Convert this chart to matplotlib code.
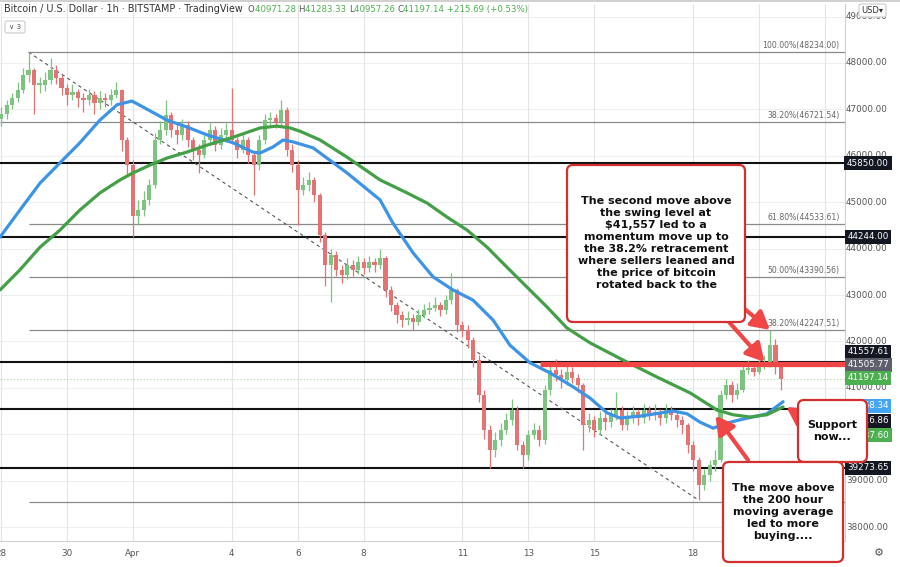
import numpy as np
import matplotlib.pyplot as plt
from matplotlib.patches import FancyBboxPatch
from matplotlib.transforms import blended_transform_factory

plt.rcParams['font.family'] = ['DejaVu Sans']

# ---- BTC/USD, 4 hour candles (time = days from 28 Mar 00:00) ----
first_open = 46800
close = [46900, 47090, 47250, 47420, 47740, 47850, 47530, 47530, 47630, 47850,
         47680, 47460, 47310, 47380, 47250, 47200, 47310, 47140, 47250, 47200,
         47310, 47420, 46340, 45800, 44700, 44830, 45050, 45370, 46340, 46560,
         46880, 46560, 46450, 46660, 46340, 46120, 46020, 46340, 46560, 46230,
         46450, 46560, 46340, 46120, 46340, 46020, 45800, 46340, 46770, 46810,
         46730, 46990, 46120, 45800, 45260, 45370, 45480, 45160, 44290, 43650,
         43860, 43540, 43430, 43650, 43540, 43710, 43580, 43710, 43650, 43800,
         43110, 42790, 42570, 42460, 42510, 42420, 42570, 42680, 42720, 42790,
         42680, 42890, 43110, 42350, 42250, 42030, 41600, 40850, 40090, 39660,
         39880, 40090, 40310, 40520, 39770, 39550, 39980, 40090, 39880, 40950,
         41380, 41280, 41170, 41340, 41210, 41060, 40200, 40310, 40090, 40350,
         40260, 40410, 40520, 40200, 40350, 40480, 40350, 40520, 40410, 40480,
         40350, 40520, 40410, 40310, 40200, 39770, 39440, 38910, 39120, 39340,
         39440, 40850, 41060, 40850, 40950, 41380, 41430, 41340, 41470, 41560,
         41920, 41490, 41197.14]
high = [47050, 47200, 47350, 47600, 47900, 48234, 47900, 47700, 47800, 48100,
        47950, 47750, 47550, 47550, 47450, 47350, 47450, 47400, 47400, 47350,
        47450, 47600, 47450, 46400, 45900, 45050, 45250, 45500, 46500, 46750,
        47200, 46950, 46700, 46800, 46750, 46400, 46250, 46450, 46700, 46650,
        46600, 46700, 47460, 46400, 46500, 46400, 46100, 46450, 46900, 46950,
        46900, 47200, 47050, 46250, 45900, 45550, 45650, 45550, 45200, 44350,
        44000, 43950, 43650, 43800, 43750, 43850, 43800, 43850, 43800, 44000,
        43850, 43200, 42850, 42650, 42650, 42600, 42700, 42800, 42850, 42950,
        42850, 43000, 43470, 43150, 42450, 42350, 42100, 41700, 40950, 40200,
        40050, 40250, 40450, 40750, 40600, 39850, 40100, 40250, 40200, 41050,
        41500, 41620, 41400, 41500, 41450, 41300, 41100, 40450, 40400, 40500,
        40450, 40550, 40900, 40600, 40500, 40600, 40550, 40650, 40600, 40650,
        40550, 40650, 40600, 40500, 40400, 40250, 39850, 39500, 39250, 39450,
        39650, 40950, 41200, 41150, 41100, 41500, 41600, 41550, 41600, 41700,
        42247.51, 42050, 41550]
low = [46650, 46800, 47000, 47150, 47350, 47600, 46900, 47350, 47400, 47550,
       47550, 47300, 47100, 47200, 47050, 46950, 47100, 46900, 47000, 47050,
       47100, 47250, 46100, 45600, 44250, 44500, 44700, 44950, 45300, 46250,
       46450, 46400, 46250, 46350, 46200, 45900, 45630, 45950, 46250, 46100,
       46150, 46350, 46250, 45950, 46050, 45850, 45160, 45700, 46250, 46650,
       46600, 46650, 46000, 45650, 44510, 45150, 45250, 45000, 44150, 43200,
       42850, 43400, 43250, 43350, 43400, 43450, 43450, 43500, 43500, 43550,
       42950, 42650, 42400, 42300, 42350, 42250, 42350, 42500, 42600, 42650,
       42550, 42600, 42800, 42200, 42100, 41850, 41450, 40700, 39900, 39280,
       39500, 39750, 40000, 40200, 39650, 39280, 39450, 39900, 39750, 39800,
       40850, 41150, 41000, 41050, 41100, 40900, 39650, 40050, 39950, 40000,
       40100, 40150, 40300, 40100, 40100, 40250, 40200, 40250, 40300, 40300,
       40200, 40250, 40300, 40150, 40000, 39600, 39200, 38580, 38800, 39000,
       39200, 39400, 40750, 40700, 40750, 40900, 41300, 41250, 41300, 41400,
       41450, 41300, 40957.26]

# moving averages (100 hour blue, 200 hour green), day / price
ma100_day = [-0.03, 0.57, 1.18, 1.79, 2.39, 3.00, 3.52, 3.97, 4.31, 5.03, 5.64,
             6.25, 7.04, 7.64, 7.86, 8.25, 8.56, 8.86, 9.47, 10.50, 11.50, 11.89,
             12.50, 13.11, 13.71, 14.32, 14.93, 15.44, 16.05, 16.66, 17.36, 17.87,
             18.39, 18.78, 19.39, 20.39, 20.82, 21.21, 21.61, 22.03, 22.42, 23.24, 23.73]
ma100 = [44250, 44830, 45410, 45850, 46280, 46770, 47100, 47180, 47050, 46770, 46620,
         46450, 46280, 46080, 46060, 46190, 46340, 46300, 46170, 45630, 45050, 44550,
         43910, 43390, 43110, 42890, 42460, 41920, 41540, 41320, 41020, 40780,
         40460, 40350, 40390, 40500, 40440, 40260, 40130, 40240, 40310, 40440, 40700]
ma200_day = [-0.03, 0.57, 1.18, 1.79, 2.39, 3.00, 3.61, 4.00, 4.52, 5.03, 5.64,
             6.25, 7.04, 7.86, 8.37, 8.77, 9.07, 9.68, 10.50, 11.50, 12.32, 12.93,
             13.53, 14.14, 14.75, 15.35, 15.96, 16.57, 17.17, 17.87, 18.87, 19.91,
             20.91, 21.73, 22.21, 22.73, 23.24, 23.73]
ma200 = [43110, 43540, 44030, 44400, 44830, 45200, 45480, 45630, 45800, 45950, 46080,
         46230, 46400, 46600, 46640, 46600, 46530, 46340, 45970, 45480, 45200, 44980,
         44680, 44400, 44030, 43600, 43170, 42740, 42290, 41970, 41600, 41230,
         40890, 40520, 40420, 40370, 40420, 40587.60]

fib_levels = [48234.00, 44533.61, 43390.56, 42247.51, 38547.10]
fib_names = ["100.00%(48234.00)", "61.80%(44533.61)", "50.00%(43390.56)",
             "38.20%(42247.51)", "0.00%(38547.10)"]
fib2_level = 46721.54
fib2_name = "38.20%(46721.54)"
black_levels = [45850.00, 44244.00, 41557.61, 40540.00, 39273.65]
swing_level = 41505.77
swing_start = 16.35
last_price = 41197.14

price_ticks = list(range(38000, 50000, 1000))
date_days = [0, 2, 4, 7, 9, 11, 14, 16, 18, 21, 23, 25]
date_labels = ["28", "30", "Apr", "4", "6", "8", "11", "13", "15", "18", "20", "22"]

tag_text = ["45850.00", "44244.00", "41557.61", "41505.77", "41197.14",
            "40768.34", "40716.86", "40587.60", "39273.65"]
tag_color = ["#131722", "#131722", "#131722", "#5d606b", "#4caf50",
             "#42a5f5", "#131722", "#4caf50", "#131722"]
tag_px = [163, 237, 352, 365, 378, 406, 421, 435, 468]   # stacked label rows

# ---- layout ----
W, H = 900, 567
PX_R, PX_T, PX_B = 845, 4, 541
P_TOP, P_BOT = 49271, 37699
T_LEFT, T_RIGHT = -0.033, 25.61
UP, DN = "#7cc47f", "#e57373"
RED = "#f04646"
BOXRED = "#d32f2f"


def px_to_price(py):
    return P_TOP - (py - PX_T) / (PX_B - PX_T) * (P_TOP - P_BOT)


fig = plt.figure(figsize=(W / 100, H / 100), dpi=100)
ax = fig.add_axes([0, 1 - PX_B / H, PX_R / W, (PX_B - PX_T) / H])
ax.set_xlim(T_LEFT, T_RIGHT)
ax.set_ylim(P_BOT, P_TOP)
ax.set_xticks([])
ax.set_yticks([])
for s in ["left", "top"]:
    ax.spines[s].set_visible(False)
for s in ["right", "bottom"]:
    ax.spines[s].set_color("#d0d0d0")
    ax.spines[s].set_linewidth(0.8)

ytr = blended_transform_factory(ax.transAxes, ax.transData)
xtr = blended_transform_factory(ax.transData, ax.transAxes)

# grid
for p in price_ticks:
    ax.axhline(p, color="#efefef", lw=0.8, zorder=0)
for d in date_days:
    ax.axvline(d, color="#e4e4e4", lw=0.8, zorder=0)

# candles
c = np.array(close, dtype=float)
o = np.r_[first_open, c[:-1]]
t = np.arange(len(c)) / 6.0
cols = np.where(c >= o, UP, DN)
ax.vlines(t, low, high, colors=cols, lw=0.9, zorder=2)
ax.bar(t, np.maximum(np.abs(c - o), 30), bottom=np.minimum(o, c), width=0.125,
       color=cols, lw=0, zorder=2)

# fib levels
ax.hlines(fib_levels, t[5], T_RIGHT, color="#8a8a8a", lw=0.9, zorder=1)
ax.hlines(fib2_level, T_LEFT, T_RIGHT, color="#8a8a8a", lw=0.9, zorder=1)
for lv, nm in zip(fib_levels + [fib2_level], fib_names + [fib2_name]):
    ax.annotate(nm, xy=(1, lv), xycoords=ytr, xytext=(-4, 1.5),
                textcoords="offset points", ha="right", va="bottom",
                fontsize=5.6, color="#666666")

# horizontal support / resistance
for lv in black_levels:
    ax.axhline(lv, color="#111111", lw=1.5, zorder=1.5)
ax.axhline(last_price, color="#a5d6a7", lw=0.8, ls=(0, (1, 2)), zorder=1.2)

# trend line from the high to the low
ax.plot([t[5], t[127]], [high[5], low[127]], color="#555555", lw=0.8,
        ls=(0, (3, 3)), zorder=1.8)

# moving averages
ax.plot(ma100_day, ma100, color="#3d94e6", lw=2.3, zorder=3,
        solid_capstyle="round", solid_joinstyle="round")
ax.plot(ma200_day, ma200, color="#43a047", lw=2.3, zorder=3,
        solid_capstyle="round", solid_joinstyle="round")

# swing level
ax.hlines(swing_level, swing_start, T_RIGHT, color=RED, lw=3.8, zorder=4)

# price scale
for p in price_ticks:
    ax.text(867 / PX_R, p, f"{p:.2f}", transform=ytr, ha="center", va="center",
            fontsize=6.3, color="#555555", clip_on=False, zorder=5)
for txt, col, py in zip(tag_text, tag_color, tag_px):
    ax.text(868 / PX_R, px_to_price(py), txt, transform=ytr, ha="center", va="center",
            fontsize=6.3, color="white", clip_on=False, zorder=6,
            bbox=dict(boxstyle="square,pad=0.3", fc=col, ec="none"))

# time scale
for d, lab in zip(date_days, date_labels):
    ax.text(d, -12 / (PX_B - PX_T), lab, transform=xtr, ha="center", va="center",
            fontsize=6.3, color="#555555", clip_on=False)

# ---- overlay in pixel units for header and call-outs ----
ov = fig.add_axes([0, 0, 1, 1])
ov.set_xlim(0, W)
ov.set_ylim(H, 0)
ov.axis("off")
ov.patch.set_visible(False)


def red_arrow(tail, head):
    ax.annotate("", xy=head, xycoords="data", xytext=tail, textcoords=ov.transData,
                annotation_clip=False, zorder=7,
                arrowprops=dict(arrowstyle="-|>,head_length=0.9,head_width=0.5",
                                color=RED, lw=3, mutation_scale=12,
                                shrinkA=0, shrinkB=0))


red_arrow((741, 306), (t[140], high[140]))
red_arrow((729, 322), (t[139], black_levels[2]))
red_arrow((748, 460), (ma200_day[33] - 0.05, ma200[33] - 120))
red_arrow((803, 418), (ma200_day[-1] + 0.1, ma200[-1]))


def callout(x0, y0, w, h, text):
    ov.add_patch(FancyBboxPatch((x0, y0), w, h, boxstyle="round,pad=0,rounding_size=6",
                                fc="white", ec=BOXRED, lw=1.6, zorder=5))
    ov.text(x0 + w / 2, y0 + h / 2, text, ha="center", va="center", fontsize=8,
            fontweight="bold", color="#111111", linespacing=1.25, zorder=6)


callout(567, 165, 178, 157,
        "The second move above\nthe swing level at\n$41,557 led to a\nmomentum move up to\n"
        "the 38.2% retracement\nwhere sellers leaned and\nthe price of bitcoin\nrotated back to the")
callout(798, 400, 69, 62, "Support\nnow...")
callout(723, 462, 120, 100,
        "The move above\nthe 200 hour\nmoving average\nled to more\nbuying....")

# header
ov.plot([0, W], [1.2, 1.2], color="#c8c8c8", lw=1.2)
ov.text(4, 9.5, "Bitcoin / U.S. Dollar · 1h · BITSTAMP · TradingView", fontsize=6.9,
        color="#333333", ha="left", va="center")
pieces = [("O", "#555555"), ("40971.28 ", "#4caf50"), ("H", "#555555"),
          ("41283.33 ", "#4caf50"), ("L", "#555555"), ("40957.26 ", "#4caf50"),
          ("C", "#555555"), ("41197.14 +215.69 (+0.53%)", "#4caf50")]
prev = ov.text(248, 14, pieces[0][0], fontsize=6.2, color=pieces[0][1],
               ha="left", va="bottom")
for txt, col in pieces[1:]:
    prev = ov.annotate(txt, xy=(1, 0), xycoords=prev, fontsize=6.2, color=col,
                       ha="left", va="bottom")

ov.add_patch(FancyBboxPatch((5, 21), 20, 12, boxstyle="round,pad=0,rounding_size=2",
                            fc="white", ec="#cccccc", lw=0.8))
ov.text(15, 27, "∨ 3", fontsize=5.2, color="#555555", ha="center", va="center")
ov.add_patch(FancyBboxPatch((859, 4), 27, 13, boxstyle="round,pad=0,rounding_size=2",
                            fc="white", ec="#cccccc", lw=0.8, zorder=5))
ov.text(872.5, 10.5, "USD▾", fontsize=6, color="#333333", ha="center", va="center",
        zorder=6)
ov.text(879, 553, "⚙", fontsize=8, color="#555555", ha="center", va="center")

fig.savefig("out.png", dpi=100, facecolor="white")
